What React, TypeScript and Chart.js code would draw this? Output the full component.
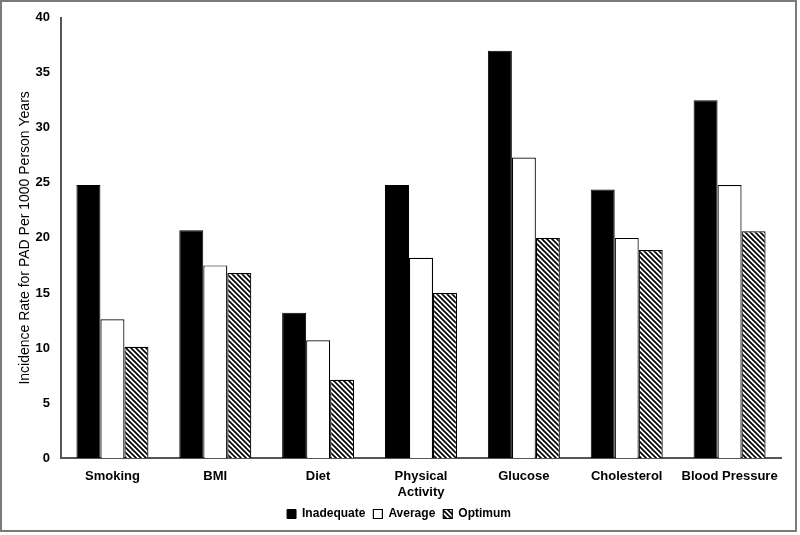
import React, { useEffect, useRef } from "react";
import { Chart, registerables } from "chart.js";

Chart.register(...registerables);

const categories: (string | string[])[] = [
  "Smoking",
  "BMI",
  "Diet",
  ["Physical", "Activity"],
  "Glucose",
  "Cholesterol",
  "Blood Pressure",
];
const inadequate = [24.8, 20.7, 13.2, 24.8, 37.0, 24.4, 32.5];
const average = [12.6, 17.5, 10.7, 18.2, 27.3, 20.0, 24.8];
const optimum = [10.1, 16.8, 7.1, 15.0, 20.0, 18.9, 20.6];
const yTitle = "Incidence Rate for PAD Per 1000 Person Years";

const FONT = '"Liberation Sans", Arial, sans-serif';

function makeHatch(): CanvasPattern | string {
  const s = 5;
  const c = document.createElement("canvas");
  c.width = s;
  c.height = s;
  const ctx = c.getContext("2d");
  if (!ctx) return "#888";
  ctx.fillStyle = "#fff";
  ctx.fillRect(0, 0, s, s);
  ctx.strokeStyle = "#000";
  ctx.lineWidth = 1.7;
  for (const off of [-s, 0, s]) {
    ctx.beginPath();
    ctx.moveTo(-1, off - 1);
    ctx.lineTo(s + 1, off + s + 1);
    ctx.stroke();
  }
  return ctx.createPattern(c, "repeat") || "#888";
}

export default function App() {
  const ref = useRef<HTMLCanvasElement>(null);
  useEffect(() => {
    if (!ref.current) return;
    const hatch = makeHatch();
    const chart = new Chart(ref.current, {
      type: "bar",
      data: {
        labels: categories,
        datasets: [
          {
            label: "Inadequate",
            data: inadequate,
            backgroundColor: "#000",
            borderColor: "#000",
            borderWidth: 1,
          },
          {
            label: "Average",
            data: average,
            backgroundColor: "#fff",
            borderColor: "#000",
            borderWidth: 1.2,
          },
          {
            label: "Optimum",
            data: optimum,
            backgroundColor: hatch as any,
            borderColor: "#000",
            borderWidth: 1.2,
          },
        ],
      },
      options: {
        animation: false,
        responsive: false,
        maintainAspectRatio: false,
        layout: { padding: { top: 3, right: 14, bottom: 0, left: 15 } },
        datasets: {
          bar: { categoryPercentage: 0.7, barPercentage: 1.0 },
        },
        plugins: {
          tooltip: { enabled: false },
          legend: {
            position: "bottom",
            labels: {
              boxWidth: 9,
              boxHeight: 9,
              padding: 8,
              color: "#000",
              font: { family: FONT, size: 12, weight: "bold" },
            },
          },
        },
        scales: {
          x: {
            grid: { display: false, drawTicks: false },
            border: { display: true, color: "#555", width: 2 },
            ticks: {
              color: "#000",
              maxRotation: 0,
              autoSkip: false,
              padding: 11,
              font: { family: FONT, size: 13, weight: "bold" },
            },
            afterFit: (s: any) => {
              s.height = 42;
            },
          },
          y: {
            min: 0,
            max: 40,
            grid: { display: false, drawTicks: false },
            border: { display: true, color: "#555", width: 2 },
            ticks: {
              stepSize: 5,
              color: "#000",
              padding: 11,
              font: { family: FONT, size: 13, weight: "bold" },
            },
            title: {
              display: true,
              text: yTitle,
              color: "#000",
              padding: 0,
              font: { family: FONT, size: 14, weight: "normal" },
            },
            afterFit: (s: any) => {
              s.width = 44;
            },
          },
        },
      },
    });
    return () => chart.destroy();
  }, []);
  return (
    <div
      style={{
        position: "absolute",
        left: 0,
        top: 0,
        width: 797,
        height: 532,
        boxSizing: "border-box",
        border: "2px solid #7a7a7a",
        background: "#fff",
      }}
    >
      <canvas
        ref={ref}
        width={793}
        height={531}
        style={{ display: "block", position: "absolute", left: 0, top: -3 }}
      />
    </div>
  );
}
